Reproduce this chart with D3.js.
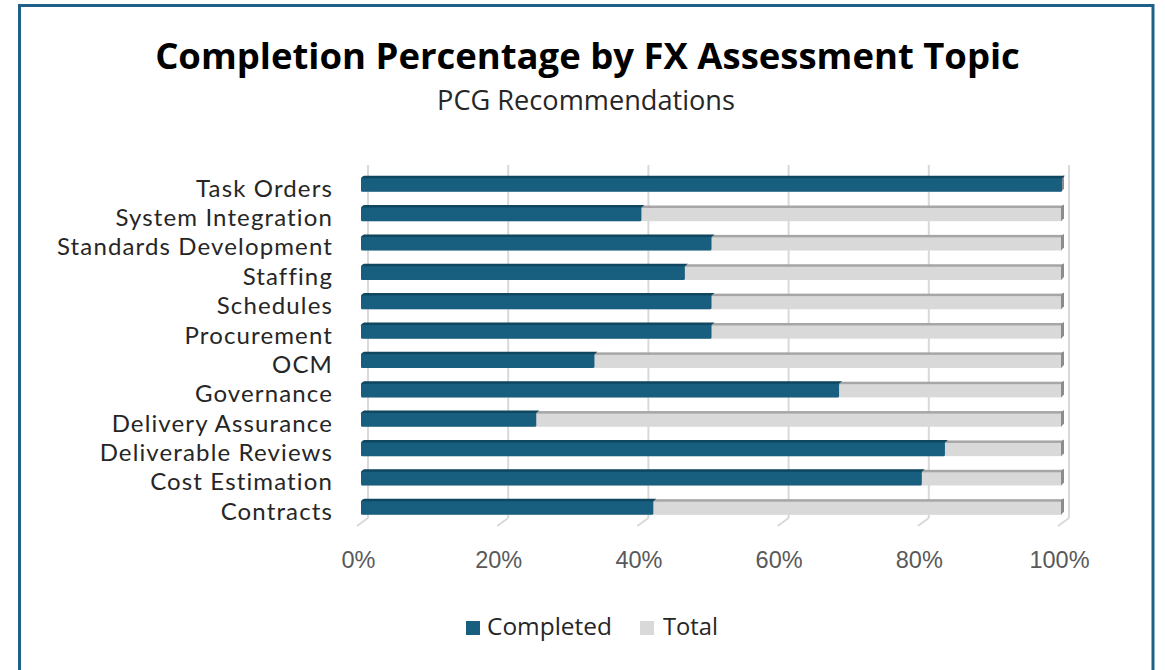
<!DOCTYPE html>
<html><head><meta charset="utf-8">
<script src="https://cdn.jsdelivr.net/npm/d3@7"></script>
<style>html,body{margin:0;padding:0;background:#fff;overflow:hidden}</style>
</head><body>
<svg id="c" width="1165" height="670"></svg>
<script>
const categories = ["Task Orders","System Integration","Standards Development","Staffing","Schedules","Procurement","OCM","Governance","Delivery Assurance","Deliverable Reviews","Cost Estimation","Contracts"];
const completed = [100, 40, 50, 46.2, 50, 50, 33.3, 68.2, 25, 83.3, 80, 41.7];
const total = [100, 100, 100, 100, 100, 100, 100, 100, 100, 100, 100, 100];
const tickValues = [0, 20, 40, 60, 80, 100];
const seriesNames = ["Completed", "Total"];
const colors = {completed:"#175e7f", completedTop:"#0f4660", total:"#d9d9d9", totalTop:"#a6a6a6", totalEnd:"#8c8c8c"};

const svg = d3.select("#c");
svg.append("rect").attr("x",0).attr("y",0).attr("width",1165).attr("height",670).attr("fill","#fff");
svg.append("rect").attr("x",19.5).attr("y",5.5).attr("width",1133.5).attr("height",700)
  .attr("fill","none").attr("stroke","#1f6089").attr("stroke-width",3);

function fit(sel, target){
  const fs = parseFloat(sel.attr("font-size"));
  const w = sel.node().getComputedTextLength();
  sel.attr("font-size", fs*target/w);
}

// Title
const title = svg.append("text").attr("x",587.5).attr("y",69).attr("text-anchor","middle")
  .attr("font-family","Open Sans").attr("font-weight","bold").attr("font-size",34).attr("fill","#000")
  .text("Completion Percentage by FX Assessment Topic");
fit(title, 865);
const sub = svg.append("text").attr("x",586).attr("y",110).attr("text-anchor","middle")
  .attr("font-family","Open Sans").attr("font-size",22).attr("fill","#262626")
  .text("PCG Recommendations");
fit(sub, 298);

const x = d3.scaleLinear().domain([0,100]).range([361,1062]);
const y = d3.scaleBand().domain(categories).range([169.8,522.2]).paddingInner(0.5).paddingOuter(0.25);
const dx = 7, floorY = 518, topY = 165;

// back gridlines
const g = svg.append("g");
tickValues.forEach(t=>{
  g.append("line").attr("x1",x(t)+dx).attr("x2",x(t)+dx).attr("y1",topY).attr("y2",floorY)
    .attr("stroke","#d9d9d9").attr("stroke-width",2);
  g.append("line").attr("x1",x(t)+dx).attr("x2",x(t)-4).attr("y1",floorY).attr("y2",526)
    .attr("stroke","#d9d9d9").attr("stroke-width",2);
});

// axis tick labels
const xAxis = d3.axisBottom(x).tickValues(tickValues).tickFormat(d=>d+"%").tickSize(0).tickPadding(0);
const ax = svg.append("g").attr("transform","translate(-3,551)").call(xAxis);
ax.select(".domain").remove();
ax.selectAll("text").attr("font-family","Liberation Sans, Arial").attr("font-size",23.5).attr("fill","#595959");

// bars
const bh = y.bandwidth();
const rows = svg.append("g").selectAll("g").data(categories).join("g");
rows.append("rect").attr("x",x(0)).attr("y",d=>y(d)).attr("width",(d,i)=>x(total[i])-x(0)).attr("height",bh).attr("fill",colors.total);
rows.append("rect").attr("x",x(0)+1).attr("y",d=>y(d)-1).attr("width",(d,i)=>x(total[i])-x(0)).attr("height",2.5).attr("fill",colors.totalTop);
rows.append("path").attr("d",(d,i)=>{const xe=x(total[i]), y0=y(d); return `M${xe-1},${y0+bh} L${xe-1},${y0} L${xe+2},${y0-2} L${xe+2},${y0+bh-3} Z`;}).attr("fill",colors.totalEnd);
rows.append("rect").attr("x",x(0)).attr("y",d=>y(d)).attr("width",(d,i)=>x(completed[i])-x(0)).attr("height",bh).attr("fill",colors.completed).attr("rx",1.5);
rows.append("path").attr("d",(d,i)=>{const xe=x(completed[i]), y0=y(d); return `M${x(0)},${y0+1} L${x(0)+3},${y0-1.5} L${xe+3},${y0-1.5} L${xe},${y0+1} Z`;}).attr("fill",colors.completedTop);

// category labels
const yAxis = d3.axisLeft(y).tickSize(0).tickPadding(0);
const ay = svg.append("g").attr("transform","translate(333,4.5)").call(yAxis);
ay.select(".domain").remove();
ay.selectAll("text").attr("font-family","Lato").attr("font-size",24).attr("fill","#262626");
const longest = ay.selectAll("text").filter(d=>d==="Standards Development");
const w0 = longest.node().getComputedTextLength();
const ls = Math.max(0, (276 - w0) / 21);
ay.selectAll("text").attr("letter-spacing", ls);

// legend
const leg = svg.append("g");
const legItems = [{n:seriesNames[0],c:colors.completed,sx:466,tx:487,w:125},{n:seriesNames[1],c:colors.total,sx:640,tx:663,w:55}];
legItems.forEach(it=>{
  leg.append("rect").attr("x",it.sx).attr("y",621).attr("width",14).attr("height",14).attr("fill",it.c);
  const t = leg.append("text").attr("x",it.tx).attr("y",635).attr("font-family","Open Sans").attr("font-size",22).attr("fill","#262626").text(it.n);
  fit(t, it.w);
});
</script>
</body></html>
